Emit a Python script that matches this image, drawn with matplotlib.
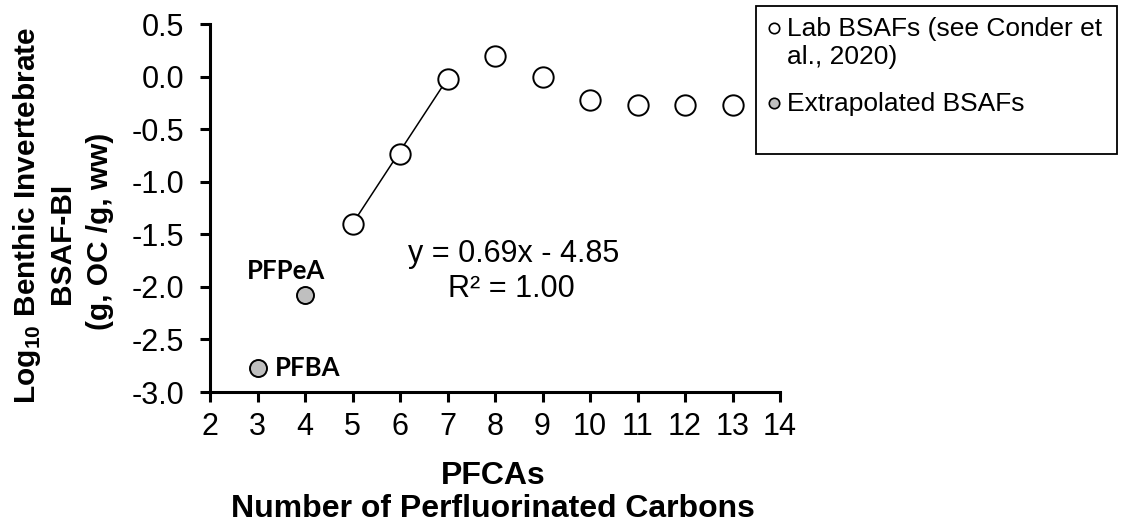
import matplotlib.pyplot as plt
from matplotlib.lines import Line2D
from matplotlib.patches import Rectangle

plt.rcParams['font.family'] = ['Liberation Sans', 'DejaVu Sans']
plt.rcParams['mathtext.fontset'] = 'custom'
plt.rcParams['mathtext.rm'] = 'Liberation Sans'
plt.rcParams['mathtext.bf'] = 'Liberation Sans:bold'

# lab BSAFs (Conder et al., 2020)
lab_carbons = [5, 6, 7, 8, 9, 10, 11, 12, 13]
lab_bsaf = [-1.40, -0.74, -0.02, 0.20, 0.00, -0.22, -0.27, -0.27, -0.27]

# extrapolated BSAFs
ext_carbons = [3, 4]
ext_bsaf = [-2.77, -2.08]
ext_names = ['PFBA', 'PFPeA']

# regression over C5-C7
slope = 0.69
intercept = -4.85
fit_x = [5, 7]

yticks = [0.5, 0.0, -0.5, -1.0, -1.5, -2.0, -2.5, -3.0]

W, H = 1122, 527
fig = plt.figure(figsize=(W / 100, H / 100), dpi=100)
ax = fig.add_axes([210 / W, 1 - 392 / H, 570 / W, 368 / H])

fit_y = [slope * x + intercept for x in fit_x]
ax.plot(fit_x, fit_y, color='black', lw=1.1, zorder=1)

ax.scatter(lab_carbons, lab_bsaf, s=215, facecolor='white', edgecolor='black',
           linewidth=1.4, zorder=3, clip_on=False)
ax.scatter(ext_carbons, ext_bsaf, s=150, facecolor='#bfbfbf', edgecolor='black',
           linewidth=1.4, zorder=3, clip_on=False)

lbl_font = ['Lato', 'DejaVu Sans']
ax.text(3.37, ext_bsaf[0], ext_names[0], fontsize=18.5, fontweight='bold',
        family=lbl_font, va='center', ha='left')
ax.text(3.6, ext_bsaf[1] + 0.235, ext_names[1], fontsize=18.5, fontweight='bold',
        family=lbl_font, va='center', ha='center')

ax.text(8.40, -1.69, 'y = 0.69x - 4.85', fontsize=22, ha='center', va='center')
ax.text(8.34, -2.02, 'R² = 1.00', fontsize=22, ha='center', va='center')

ax.set_xlim(2, 14)
ax.set_ylim(-3.0, 0.5)
ax.set_xticks(range(2, 15))
ax.set_yticks(yticks)
ax.set_yticklabels(['%.1f' % v for v in yticks])
ax.tick_params(labelsize=22, width=2.2, length=7.5, direction='out')
ax.tick_params(axis='x', pad=7)
ax.tick_params(axis='y', pad=11)
ax.spines['top'].set_visible(False)
ax.spines['right'].set_visible(False)
ax.spines['left'].set_linewidth(2.2)
ax.spines['bottom'].set_linewidth(2.2)

# axis titles
fig.text(493 / W, 1 - 476 / H, 'PFCAs', fontsize=23, fontweight='bold',
         ha='center', va='center')
fig.text(493 / W, 1 - 509 / H, 'Number of Perfluorinated Carbons', fontsize=23,
         fontweight='bold', ha='center', va='center')
fig.text(27 / W, 1 - 215 / H, r'Log$_{\mathbf{10}}$ Benthic Invertebrate',
         fontsize=21.5, fontweight='bold', rotation=90, ha='center', va='center')
fig.text(62 / W, 1 - 243 / H, 'BSAF-BI', fontsize=21.5, fontweight='bold',
         rotation=90, ha='center', va='center')
fig.text(100 / W, 1 - 231 / H, '(g, OC /g, ww)', fontsize=21.5,
         fontweight='bold', rotation=90, ha='center', va='center')

# legend box
fig.add_artist(Rectangle((756 / W, 1 - 154 / H), 361 / W, 148 / H,
                         transform=fig.transFigure, facecolor='white',
                         edgecolor='black', linewidth=1.3))
fig.add_artist(Line2D([774 / W], [1 - 28 / H], transform=fig.transFigure,
                      marker='o', markersize=7.5, markerfacecolor='white',
                      markeredgecolor='black', markeredgewidth=1.2, linestyle='none'))
fig.add_artist(Line2D([774 / W], [1 - 103 / H], transform=fig.transFigure,
                      marker='o', markersize=7.5, markerfacecolor='#bfbfbf',
                      markeredgecolor='black', markeredgewidth=1.2, linestyle='none'))
fig.text(787 / W, 1 - 29 / H, 'Lab BSAFs (see Conder et', fontsize=19,
         ha='left', va='center')
fig.text(787 / W, 1 - 57 / H, 'al., 2020)', fontsize=19, ha='left', va='center')
fig.text(787 / W, 1 - 104 / H, 'Extrapolated BSAFs', fontsize=19,
         ha='left', va='center')

fig.savefig('out.png', dpi=100)
